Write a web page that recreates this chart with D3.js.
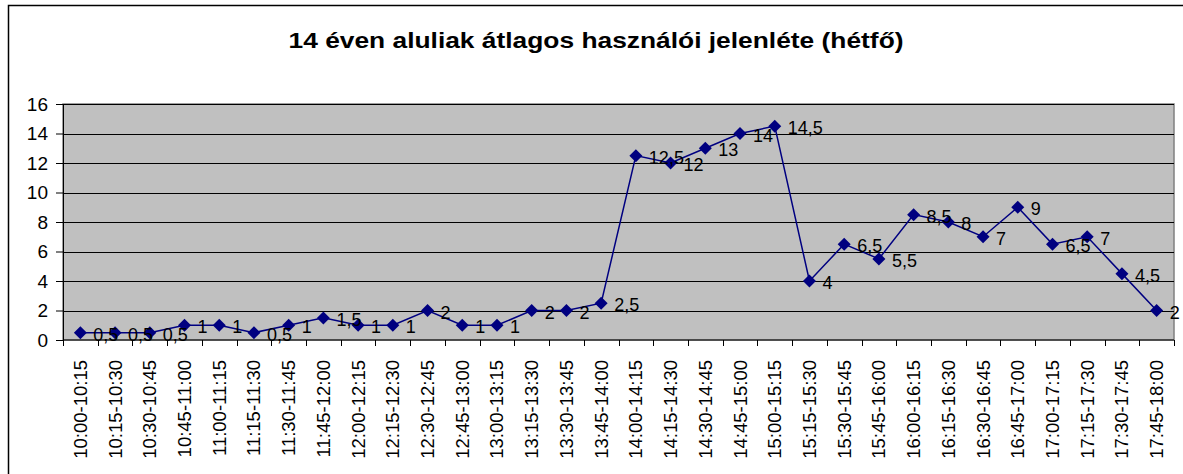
<!DOCTYPE html>
<html>
<head>
<meta charset="utf-8">
<script src="https://cdn.jsdelivr.net/npm/d3@7"></script>
<style>
  body { margin: 0; background: #fff; }
  svg { display: block; font-family: "Liberation Sans", Arial, sans-serif; }
</style>
</head>
<body>
<div id="chart"></div>
<script>
// category labels (15 minute slots) and averaged values
const slots = [
  "10:00-10:15", "10:15-10:30", "10:30-10:45", "10:45-11:00",
  "11:00-11:15", "11:15-11:30", "11:30-11:45", "11:45-12:00",
  "12:00-12:15", "12:15-12:30", "12:30-12:45", "12:45-13:00",
  "13:00-13:15", "13:15-13:30", "13:30-13:45", "13:45-14:00",
  "14:00-14:15", "14:15-14:30", "14:30-14:45", "14:45-15:00",
  "15:00-15:15", "15:15-15:30", "15:30-15:45", "15:45-16:00",
  "16:00-16:15", "16:15-16:30", "16:30-16:45", "16:45-17:00",
  "17:00-17:15", "17:15-17:30", "17:30-17:45", "17:45-18:00"
];
const values = [
  0.5, 0.5, 0.5, 1, 1, 0.5, 1, 1.5,
  1, 1, 2, 1, 1, 2, 2, 2.5,
  12.5, 12, 13, 14, 14.5, 4, 6.5, 5.5,
  8.5, 8, 7, 9, 6.5, 7, 4.5, 2
];
const yTicks = [0, 2, 4, 6, 8, 10, 12, 14, 16];
const title = "14 éven aluliak átlagos használói jelenléte (hétfő)";

const width = 1183, height = 474;
const margin = ({top: 104, right: 9, bottom: 134, left: 63});

const svg = d3.select("#chart").append("svg")
  .attr("width", width)
  .attr("height", height);

// outer chart frame (runs off the right and bottom edge)
svg.append("rect")
  .attr("x", 8.5).attr("y", 5.5)
  .attr("width", 1200).attr("height", 500)
  .attr("fill", "#fff").attr("stroke", "#000").attr("stroke-width", 1.5);

const x = d3.scaleBand().domain(slots).range([margin.left, width - margin.right]);
const y = d3.scaleLinear().domain([0, 16]).range([height - margin.bottom, margin.top]);

// plot area
svg.append("rect")
  .attr("x", margin.left).attr("y", margin.top)
  .attr("width", width - margin.right - margin.left)
  .attr("height", y(0) - margin.top)
  .attr("fill", "#c0c0c0").attr("stroke", "#808080").attr("stroke-width", 1.5);

// gridlines
svg.append("g")
  .selectAll("line")
  .data(yTicks.slice(1))
  .join("line")
    .attr("x1", margin.left).attr("x2", width - margin.right)
    .attr("y1", d => Math.round(y(d)) + 0.5).attr("y2", d => Math.round(y(d)) + 0.5)
    .attr("stroke", "#000");

// y axis
svg.append("g")
  .attr("transform", `translate(${margin.left},0)`)
  .call(d3.axisLeft(y).tickValues(yTicks).tickSize(7).tickSizeOuter(0).tickPadding(8))
  .call(g => g.selectAll("text").attr("font-size", 19).attr("fill", "#000").attr("font-family", null))
  .call(g => g.selectAll("line,path").attr("stroke", "#000"));

// x axis, ticks between categories
const xg = svg.append("g")
  .attr("transform", `translate(0,${y(0)})`);
xg.append("line")
  .attr("x1", margin.left).attr("x2", width - margin.right)
  .attr("stroke", "#000");
xg.selectAll(".tk")
  .data(d3.range(slots.length + 1))
  .join("line")
    .attr("class", "tk")
    .attr("x1", i => Math.round(margin.left + i * x.step()) + 0.5)
    .attr("x2", i => Math.round(margin.left + i * x.step()) + 0.5)
    .attr("y1", 0).attr("y2", 6)
    .attr("stroke", "#000");
xg.selectAll(".lbl")
  .data(slots)
  .join("text")
    .attr("class", "lbl")
    .attr("transform", d => `translate(${x(d) + x.bandwidth() / 2 + 6.5},20) rotate(-90)`)
    .attr("text-anchor", "end")
    .attr("font-size", 18.5)
    .text(d => d);

// line
const line = d3.line()
  .x((d, i) => x(slots[i]) + x.bandwidth() / 2)
  .y(d => y(d));

svg.append("path")
  .attr("fill", "none")
  .attr("stroke", "#000080")
  .attr("stroke-width", 1.5)
  .attr("d", line(values));

// diamond markers
svg.append("g")
  .selectAll("path")
  .data(values)
  .join("path")
    .attr("transform", (d, i) => `translate(${x(slots[i]) + x.bandwidth() / 2},${y(d)})`)
    .attr("d", "M0,-6.5L6.5,0L0,6.5L-6.5,0Z")
    .attr("fill", "#000080");

// data labels
svg.append("g")
  .selectAll("text")
  .data(values)
  .join("text")
    .attr("x", (d, i) => x(slots[i]) + x.bandwidth() / 2 + 13)
    .attr("y", d => y(d) + 8)
    .attr("font-size", 18)
    .attr("fill", "#000")
    .text(d => String(d).replace(".", ","));

// title
svg.append("text")
  .attr("x", 596).attr("y", 48)
  .attr("text-anchor", "middle")
  .attr("font-size", 22)
  .attr("font-weight", "bold")
  .attr("textLength", 615)
  .attr("lengthAdjust", "spacingAndGlyphs")
  .text(title);
</script>
</body>
</html>
